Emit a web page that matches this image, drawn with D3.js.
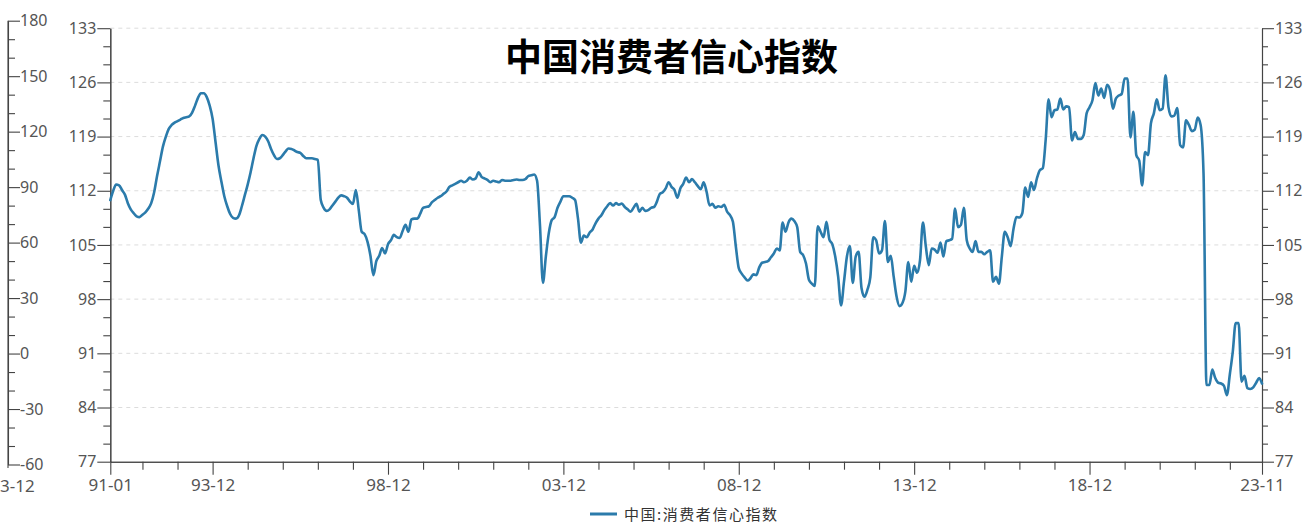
<!DOCTYPE html>
<html><head><meta charset="utf-8">
<script src="https://cdn.jsdelivr.net/npm/d3@7"></script>
<style>body{margin:0;background:#fff;overflow:hidden}</style>
</head><body>
<svg id="c" width="1309" height="524"></svg>
<script>
// ---- data ----
const seriesName = "中国:消费者信心指数";
const titleText = "中国消费者信心指数";
const firstMonth = "1991-01";
const lastMonth = "2023-11";
const cci1990s = [
  110.8,112.0,112.8,112.7,112.1,111.5,110.4,109.6,109.1,108.7,108.6,108.9, // 1991
  109.2,109.7,110.4,111.8,113.9,115.8,117.7,119.0,120.0,120.5,120.8,121.0, // 1992
  121.2,121.4,121.5,121.6,122.1,123.0,124.0,124.6,124.6,124.1,123.0,121.3, // 1993
  118.3,115.3,113.2,111.3,110.0,109.0,108.5,108.4,108.8,110.0,111.4,112.8, // 1994
  114.4,116.2,117.8,118.7,119.2,119.0,118.4,117.4,116.6,116.1,116.2,116.6, // 1995
  117.1,117.45,117.4,117.2,117.0,116.9,116.5,116.2,116.2,116.2,116.1,116.0, // 1996
  110.8,109.8,109.4,109.6,110.1,110.6,111.1,111.4,111.3,111.1,110.6,110.3, // 1997
  112.1,109.5,106.7,106.4,105.4,103.6,101.1,102.9,103.6,104.6,103.9,105.1, // 1998
  105.6,106.3,106.0,105.9,106.8,107.6,106.7,108.3,108.4,108.4,109.0,109.8  // 1999
];
const cci2000s = [
  109.9,110.0,110.5,110.8,111.1,111.3,111.6,111.9,112.5,112.7,112.9,113.1, // 2000
  113.3,113.1,113.3,113.7,113.45,113.6,114.4,113.8,113.6,113.4,113.1,113.3, // 2001
  113.2,113.1,113.4,113.3,113.3,113.3,113.4,113.45,113.4,113.4,113.5,113.9, // 2002
  114.0,114.1,113.3,107.5,100.1,103.5,106.5,108.2,108.6,109.8,110.6,111.3, // 2003
  111.3,111.3,111.1,110.8,108.4,105.3,106.2,106.0,106.6,107.0,107.8,108.4, // 2004
  108.85,109.5,110.0,110.4,110.1,110.4,110.2,110.35,109.9,109.6,109.3,109.8, // 2005
  110.3,109.3,109.8,109.4,109.5,109.8,109.9,110.6,111.6,111.8,112.3,113.1, // 2006
  112.5,112.1,111.1,112.3,112.9,113.7,113.1,113.5,113.1,112.6,112.2,113.1, // 2007
  111.85,110.1,110.3,109.8,110.0,109.9,110.2,109.3,108.85,108.0,104.8,102.0, // 2008
  101.3,100.8,100.4,100.7,101.2,101.1,102.1,102.7,102.8,102.9,103.4,103.9  // 2009
];
const cci2010s = [
  104.55,104.3,107.9,106.7,107.9,108.4,108.1,107.3,104.1,103.7,102.6,100.5, // 2010
  100.0,99.7,107.4,106.7,106.0,108.0,105.7,105.1,103.5,100.9,97.2,100.25, // 2011
  103.5,104.85,100.1,103.5,104.1,99.4,98.3,99.2,100.8,106.0,105.6,103.9, // 2012
  104.3,108.1,102.8,103.6,100.9,98.3,97.1,97.5,99.0,102.8,100.25,102.3, // 2013
  101.4,103.0,107.9,104.8,102.4,104.55,104.4,104.0,105.3,103.5,105.5,105.6, // 2014
  105.8,109.7,107.3,107.6,109.8,105.6,104.55,104.1,105.5,104.1,104.1,103.8, // 2015
  104.1,104.3,100.25,100.9,100.0,103.5,106.7,106.0,104.85,107.1,108.6,108.55, // 2016
  109.1,112.4,111.2,113.1,112.1,113.6,114.65,114.9,118.6,123.8,121.5,122.4, // 2017
  122.5,123.9,122.5,122.9,122.8,118.5,119.6,118.7,118.7,119.2,122.0,122.8, // 2018
  123.7,125.9,124.3,125.2,124.0,125.7,125.0,122.6,123.9,124.3,124.5,126.5  // 2019
];
const cci2020s = [
  126.5,118.9,122.2,116.6,115.9,112.7,117.0,116.6,120.7,122.0,123.8,122.4, // 2020
  122.6,126.9,122.8,121.6,121.7,122.7,117.9,117.6,121.1,120.5,119.7,119.9, // 2021
  121.45,120.5,114.2,86.9,86.9,88.9,87.8,87.2,87.1,86.8,85.6,88.3,        // 2022
  91.2,94.9,94.9,87.35,88.1,86.5,86.4,86.6,87.2,87.8,87.1                  // 2023
];
const xTickLabels = ["91-01","93-12","98-12","03-12","08-12","13-12","18-12","23-11"];
const yTicks = [77,84,91,98,105,112,119,126,133];
const outerTicks = [-60,-30,0,30,60,90,120,150,180];
const outerCutLabel = "3-12";

// ---- build categories (months) ----
const categories = [];
{
  let [yy, mm] = firstMonth.split("-").map(Number);
  const [ey, em] = lastMonth.split("-").map(Number);
  while (yy < ey || (yy === ey && mm <= em)) {
    categories.push(String(yy).slice(2) + "-" + String(mm).padStart(2, "0"));
    mm++; if (mm > 12) { mm = 1; yy++; }
  }
}
const values = cci1990s.concat(cci2000s, cci2010s, cci2020s);
const data = categories.map((c, i) => ({c, v: values[i]}));

// ---- layout ----
const svg = d3.select("#c");
const L = 110.3, R = 1262;
const x = d3.scalePoint().domain(categories).range([L, R]);
const y = d3.scaleLinear().domain([77, 133]).range([461.7, 28.2]);
const yOuter = d3.scaleLinear().domain([-60, 180]).range([464.5, 20.7]);

const axisColor = "#444", labelColor = "#555";
const font = "'Noto Sans', 'Liberation Sans', sans-serif";
const lineColor = "#2b7bab";
const plainFmt = d => String(d);

// grid
svg.append("g").selectAll("line").data(yTicks.filter(t => t !== 77)).join("line")
  .attr("x1", L).attr("x2", R).attr("y1", d => y(d)).attr("y2", d => y(d))
  .attr("stroke", "#dcdcdc").attr("stroke-dasharray", "4,4").attr("stroke-width", 1);

function styleAxis(g, fs) {
  g.selectAll("path,line").attr("stroke", axisColor).attr("stroke-width", 1.1);
  g.selectAll("text").attr("fill", labelColor).attr("font-family", font).attr("font-size", fs);
}
const minorY = d3.range(77, 133.01, 7 / 3).filter((v, i) => i % 3 !== 0);
const minorOuter = d3.range(-60, 180.1, 10).filter(v => v % 30 !== 0);

// outer left axis (partial chart on the left)
const gO = svg.append("g").attr("transform", "translate(8,0)");
gO.call(d3.axisRight(yOuter).tickValues(outerTicks).tickFormat(plainFmt).tickSize(12).tickSizeOuter(0).tickPadding(0));
gO.append("g").call(d3.axisRight(yOuter).tickValues(minorOuter).tickSize(7).tickSizeOuter(0).tickFormat(""));
styleAxis(gO, 16);
gO.select(".domain").attr("d", `M0,${yOuter(180)}V468`);
svg.append("text").attr("x", 0).attr("y", 485).attr("text-anchor", "start").attr("dominant-baseline", "central")
  .attr("fill", labelColor).attr("font-family", font).attr("font-size", 17).text(outerCutLabel);

// inner left axis
const gL = svg.append("g").attr("transform", `translate(${L},0)`);
gL.call(d3.axisLeft(y).tickValues(yTicks).tickFormat(plainFmt).tickSize(13).tickSizeOuter(0).tickPadding(1));
gL.append("g").call(d3.axisLeft(y).tickValues(minorY).tickSize(7).tickSizeOuter(0).tickFormat(""));
styleAxis(gL, 16);

// right axis
const gR = svg.append("g").attr("transform", `translate(${R},0)`);
gR.call(d3.axisRight(y).tickValues(yTicks).tickFormat(plainFmt).tickSize(12).tickSizeOuter(0).tickPadding(1));
gR.append("g").call(d3.axisRight(y).tickValues(minorY).tickSize(6).tickSizeOuter(0).tickFormat(""));
styleAxis(gR, 16);

// x axis
const decTicks = categories.filter((c, i) => i === 0 || i === categories.length - 1 || c.endsWith("-12"));
const gX = svg.append("g").attr("transform", `translate(0,${y(77)})`);
gX.append("g").call(d3.axisBottom(x).tickValues(decTicks.filter(c => !xTickLabels.includes(c))).tickSize(8).tickSizeOuter(0).tickFormat(""));
gX.append("g").call(d3.axisBottom(x).tickValues(xTickLabels).tickSize(13).tickSizeOuter(0).tickPadding(4));
styleAxis(gX, 17);

// line
const line = d3.line().x(d => x(d.c)).y(d => y(d.v)).curve(d3.curveMonotoneX);
svg.append("path").datum(data).attr("d", line)
  .attr("fill", "none").attr("stroke", lineColor).attr("stroke-width", 2.6)
  .attr("stroke-linejoin", "round").attr("stroke-linecap", "round");

// title
svg.append("text").attr("x", 671.5).attr("y", 55).attr("text-anchor", "middle").attr("dominant-baseline", "central")
  .attr("font-family", "'Noto Sans CJK SC', sans-serif").attr("font-weight", "bold").attr("font-size", 37)
  .attr("fill", "#000").text(titleText);

// legend
svg.append("line").attr("x1", 590).attr("x2", 617).attr("y1", 514).attr("y2", 514)
  .attr("stroke", lineColor).attr("stroke-width", 3);
svg.append("text").attr("x", 624).attr("y", 513).attr("dominant-baseline", "central")
  .attr("font-family", "'Noto Sans CJK SC', sans-serif").attr("font-size", 15).attr("fill", "#333")
  .attr("textLength", 153).attr("lengthAdjust", "spacing")
  .text(seriesName);
</script>
</body></html>
